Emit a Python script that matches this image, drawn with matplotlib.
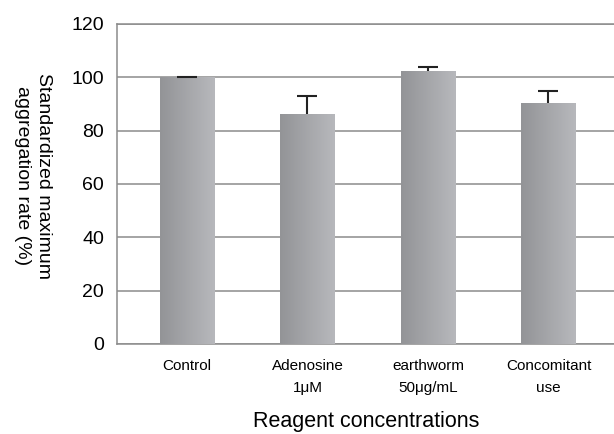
import numpy as np
import matplotlib
matplotlib.use('Agg')
import matplotlib.pyplot as plt

plt.rcParams['font.family'] = ['Liberation Sans', 'DejaVu Sans']

# data
categories = ['Control', 'Adenosine\n1μM', 'earthworm\n50μg/mL', 'Concomitant\nuse']
means = [100.0, 86.2, 102.4, 90.5]
errors_up = [0.1, 6.7, 1.6, 4.5]
y_ticks = [0, 20, 40, 60, 80, 100, 120]

fig = plt.figure(figsize=(6.14, 4.34), dpi=100)
ax = fig.add_axes([117.3 / 614, 1 - 344 / 434, (614 - 117.3) / 614, 320 / 434])

x = np.arange(len(categories))
bar_w = 0.45
bars = ax.bar(x, means, width=bar_w, color='none', edgecolor='none', zorder=3)

# left-to-right grey gradient in every bar
grad = np.linspace(0, 1, 64).reshape(1, -1)
cmap = matplotlib.colors.LinearSegmentedColormap.from_list('g', ['#939497', '#b7b8bc'])
for b in bars:
    x0, y0 = b.get_x(), b.get_y()
    im = ax.imshow(grad, cmap=cmap, aspect='auto', zorder=3,
                   extent=[x0, x0 + b.get_width(), y0, y0 + b.get_height()])
    im.set_clip_path(b)

eb = ax.errorbar(x, means, yerr=[np.zeros(len(x)), errors_up], fmt='none',
                 ecolor='#222222', elinewidth=1.5, capsize=7.5, capthick=1.5, zorder=4)
# only the upper caps are drawn in the original
for cl in eb[1]:
    if np.allclose(cl.get_ydata(), means):
        cl.set_visible(False)

ax.set_xlim(-0.578, 3.544)
ax.set_ylim(0, 120)
ax.set_yticks(y_ticks)
ax.set_xticks(x)
ax.set_xticklabels(categories, fontsize=11, linespacing=1.75)
ax.tick_params(axis='both', length=0)
ax.tick_params(axis='y', pad=9.5, labelsize=14)
ax.tick_params(axis='x', pad=10.5)
ax.yaxis.grid(True, color='#8c8c8c', linewidth=1.1, zorder=0)
ax.set_axisbelow(True)
for s in ['left', 'bottom', 'top']:
    ax.spines[s].set_color('#8c8c8c')
    ax.spines[s].set_linewidth(1.1)
ax.spines['right'].set_visible(False)

fig.text(33 / 614, 1 - 176 / 434, 'Standardized maximum\naggregation rate (%)',
         rotation=270, ha='center', va='center', fontsize=14, linespacing=1.3)
fig.text(366 / 614, 1 - 422 / 434, 'Reagent concentrations',
         ha='center', va='center', fontsize=15.5)

fig.savefig('out.png', dpi=100)
